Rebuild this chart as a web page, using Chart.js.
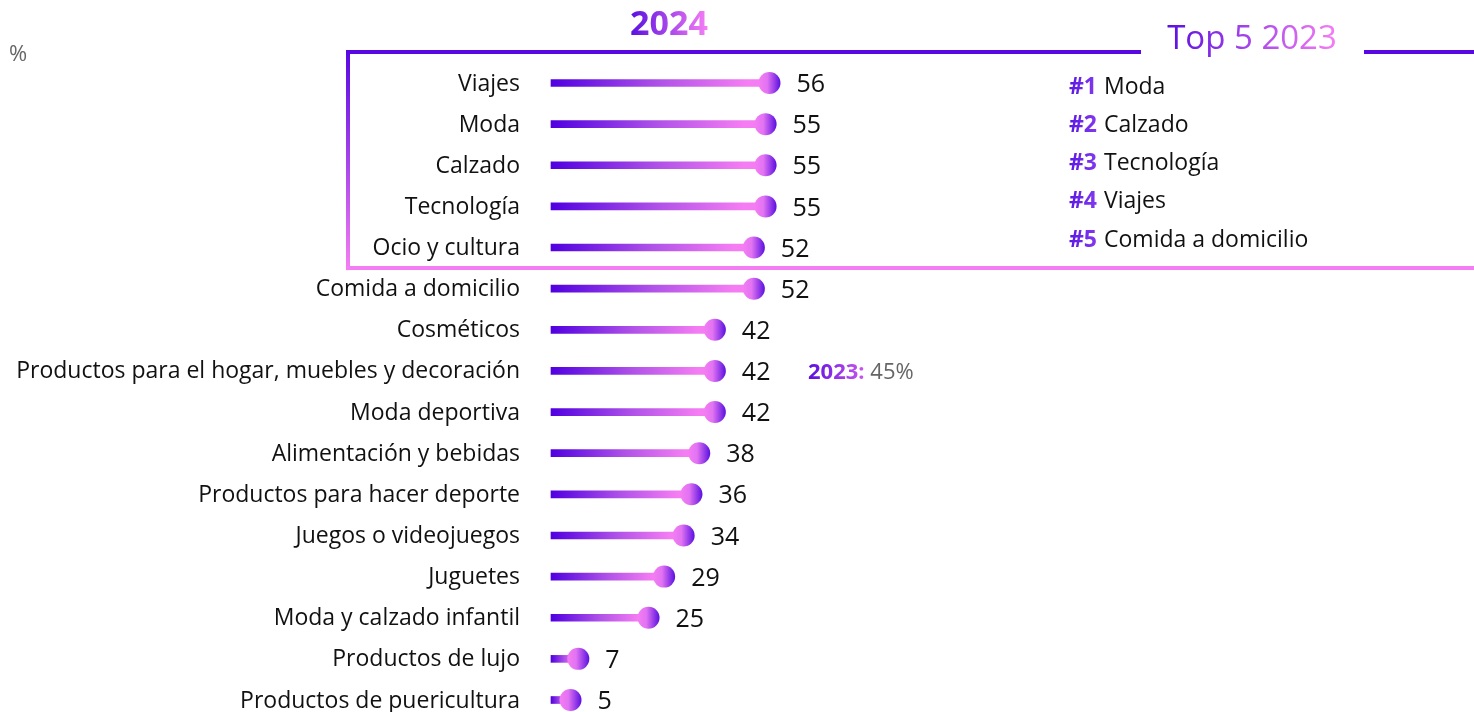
<!DOCTYPE html>
<html>
<head>
<meta charset="utf-8">
<script src="https://cdn.jsdelivr.net/npm/chart.js@4.4.1/dist/chart.umd.min.js"></script>
<style>
  html, body { margin: 0; padding: 0; background: #ffffff; overflow: hidden; }
  #wrap { position: relative; width: 1474px; height: 712px; }
  canvas { display: block; }
</style>
</head>
<body>
<div id="wrap"><canvas id="c" width="1474" height="712"></canvas></div>
<script>
const categories = [
  "Viajes", "Moda", "Calzado", "Tecnología", "Ocio y cultura",
  "Comida a domicilio", "Cosméticos",
  "Productos para el hogar, muebles y decoración", "Moda deportiva",
  "Alimentación y bebidas", "Productos para hacer deporte",
  "Juegos o videojuegos", "Juguetes", "Moda y calzado infantil",
  "Productos de lujo", "Productos de puericultura"
];
const values2024 = [56, 55, 55, 55, 52, 52, 42, 42, 42, 38, 36, 34, 29, 25, 7, 5];
const top5_2023 = ["Moda", "Calzado", "Tecnología", "Viajes", "Comida a domicilio"];
const note2023Category = "Productos para el hogar, muebles y decoración";
const note2023Value = 45;
const titleText = "2024";
const boxTitle = "Top 5 2023";
const unitLabel = "%";

const PURPLE = "#5808e2";
const PINK = "#f57df3";
const FONT = "'Open Sans', sans-serif";

function barGradient(ctx) {
  const chart = ctx.chart;
  const xs = chart.scales.x;
  if (!xs || ctx.type !== 'data') return PURPLE;
  const x0 = xs.getPixelForValue(0);
  const x1 = xs.getPixelForValue(ctx.raw);
  if (!isFinite(x0) || !isFinite(x1)) return PURPLE;
  const g = chart.ctx.createLinearGradient(x0, 0, Math.max(x1, x0 + 1), 0);
  g.addColorStop(0, "#5000e0");
  g.addColorStop(0.5, "#b052e8");
  g.addColorStop(0.9, PINK);
  g.addColorStop(1, PINK);
  return g;
}
function dotGradient(ctx) {
  const chart = ctx.chart;
  const xs = chart.scales.x;
  if (!xs || ctx.type !== 'data') return PINK;
  const cx = xs.getPixelForValue(ctx.raw);
  if (!isFinite(cx)) return PINK;
  const r = 11;
  const g = chart.ctx.createLinearGradient(cx - r, 0, cx + r, 0);
  g.addColorStop(0, PINK);
  g.addColorStop(0.4, "#e273f2");
  g.addColorStop(1, "#5a10e0");
  return g;
}

const valueLabels = {
  id: 'valueLabels',
  afterDatasetsDraw(chart) {
    const meta = chart.getDatasetMeta(1);
    const c = chart.ctx;
    c.save();
    c.font = "25px " + FONT;
    c.fillStyle = "#111111";
    c.textAlign = "left";
    c.textBaseline = "middle";
    meta.data.forEach((pt, i) => {
      c.fillText(String(values2024[i]), pt.x + 27, pt.y + 2);
    });
    c.restore();
  }
};

const decorations = {
  id: 'decorations',
  afterDraw(chart) {
    const c = chart.ctx;
    const ys = chart.scales.y;
    const W = chart.width;
    const rowTop = ys.getPixelForTick(0);
    const boxTop = rowTop - 31;
    const boxBottom = (ys.getPixelForTick(4) + ys.getPixelForTick(5)) / 2;
    const boxLeft = 348;
    c.save();

    c.font = "22px " + FONT;
    c.fillStyle = "#666666";
    c.textAlign = "left";
    c.textBaseline = "middle";
    c.fillText(unitLabel, 9, 55);

    c.font = "bold 34px " + FONT;
    c.textAlign = "center";
    let g = c.createLinearGradient(630, 0, 708, 0);
    g.addColorStop(0, "#5a10e0");
    g.addColorStop(1, "#f77ef5");
    c.fillStyle = g;
    c.fillText(titleText, 669, 25);

    c.lineWidth = 4;
    c.lineCap = "butt";
    c.strokeStyle = PURPLE;
    c.beginPath();
    c.moveTo(boxLeft - 2, boxTop); c.lineTo(1141, boxTop);
    c.moveTo(1364, boxTop); c.lineTo(W, boxTop);
    c.stroke();
    g = c.createLinearGradient(0, boxTop, 0, boxBottom);
    g.addColorStop(0, PURPLE);
    g.addColorStop(1, PINK);
    c.strokeStyle = g;
    c.beginPath();
    c.moveTo(boxLeft, boxTop - 2); c.lineTo(boxLeft, boxBottom + 2);
    c.stroke();
    c.strokeStyle = PINK;
    c.beginPath();
    c.moveTo(boxLeft - 2, boxBottom); c.lineTo(W, boxBottom);
    c.stroke();

    c.font = "33px " + FONT;
    c.textAlign = "center";
    g = c.createLinearGradient(1167, 0, 1338, 0);
    g.addColorStop(0, "#5a10e0");
    g.addColorStop(1, "#f77ef5");
    c.fillStyle = g;
    c.fillText(boxTitle, 1252, 40);

    c.textAlign = "left";
    top5_2023.forEach((name, i) => {
      const y = 87 + i * 38.3;
      c.font = "bold 23px " + FONT;
      const tag = "#" + (i + 1);
      const gg = c.createLinearGradient(1069, 0, 1102, 0);
      gg.addColorStop(0, "#5a18e4");
      gg.addColorStop(1, "#8a3ff0");
      c.fillStyle = gg;
      c.fillText(tag, 1069, y);
      const tw = c.measureText(tag).width;
      c.font = "23px " + FONT;
      c.fillStyle = "#111111";
      c.fillText(name, 1069 + tw + 7, y);
    });

    const idx = categories.indexOf(note2023Category);
    const ny = ys.getPixelForTick(idx) + 2;
    c.font = "bold 22px " + FONT;
    const lab = "2023:";
    const lw = c.measureText(lab).width;
    g = c.createLinearGradient(808, 0, 808 + lw, 0);
    g.addColorStop(0, "#5a10e0");
    g.addColorStop(1, "#c957ee");
    c.fillStyle = g;
    c.fillText(lab, 808, ny);
    c.font = "22px " + FONT;
    c.fillStyle = "#666666";
    c.fillText(" " + note2023Value + "%", 808 + lw, ny);

    c.restore();
  }
};

new Chart(document.getElementById('c'), {
  type: 'bar',
  data: {
    labels: categories,
    datasets: [
      {
        type: 'bar',
        data: values2024,
        backgroundColor: barGradient,
        borderWidth: 0,
        barThickness: 7,
        clip: false,
        order: 1
      },
      {
        type: 'line',
        data: values2024,
        showLine: false,
        pointRadius: 11,
        pointBorderWidth: 0,
        pointBackgroundColor: dotGradient,
        clip: false,
        order: 0
      }
    ]
  },
  options: {
    indexAxis: 'y',
    responsive: false,
    devicePixelRatio: 1,
    animation: false,
    events: [],
    layout: { padding: { top: 83, bottom: 12, left: 0, right: 14 } },
    plugins: { legend: { display: false }, tooltip: { enabled: false }, title: { display: false } },
    scales: {
      x: { display: false, min: 0, max: 233 },
      y: {
        offset: false,
        grid: { display: false, drawTicks: true, tickLength: 31 },
        border: { display: false },
        ticks: { color: "#111111", font: { family: FONT, size: 23, lineHeight: 1 }, padding: 0, labelOffset: 1, autoSkip: false },
        afterFit(scale) { scale.width = 551; }
      }
    }
  },
  plugins: [valueLabels, decorations]
});
</script>
</body>
</html>
